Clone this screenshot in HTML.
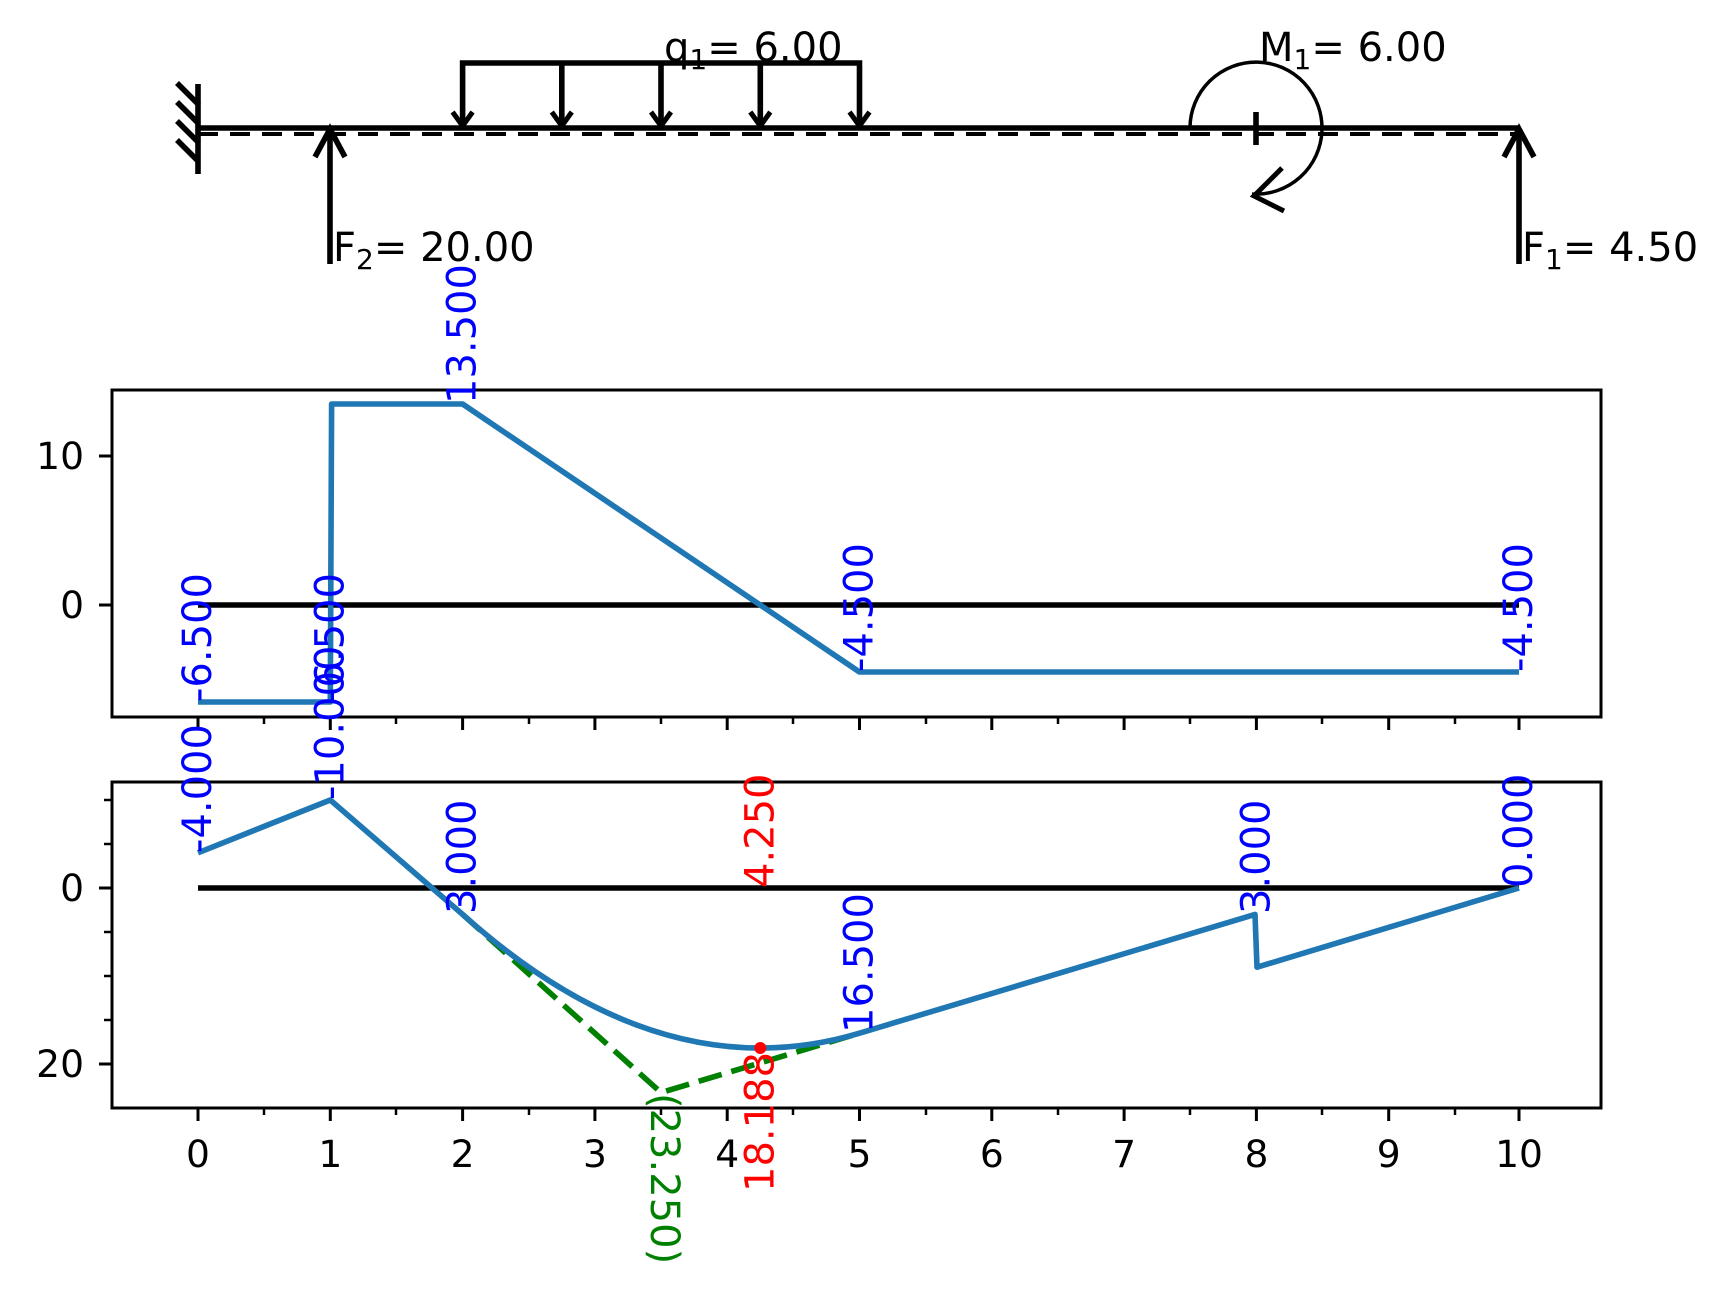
<!DOCTYPE html>
<html><head><meta charset="utf-8"><style>
html,body{margin:0;padding:0;background:#fff;}
svg{display:block;}
text{font-family:"DejaVu Sans","Liberation Sans",sans-serif;font-size:37.6px;}
.a{font-size:40px;}
</style></head><body>
<svg width="1733" height="1301" viewBox="0 0 1733 1301" xmlns="http://www.w3.org/2000/svg">
<rect width="1733" height="1301" fill="#fff"/>
<g stroke="#000" fill="none" stroke-width="5.6">
<line x1="198" y1="84" x2="198" y2="174"/>
<line x1="177" y1="83" x2="199" y2="105"/>
<line x1="177" y1="102" x2="199" y2="124"/>
<line x1="177" y1="121" x2="199" y2="143"/>
<line x1="177" y1="140" x2="199" y2="162"/>
<line x1="198" y1="128" x2="1519" y2="128"/>
<line x1="198" y1="134" x2="1519" y2="134" stroke-width="4" stroke-dasharray="20,12"/>
<polyline points="462.6,128 462.6,63 859.5,63 859.5,128"/>
<line x1="561.8" y1="63" x2="561.8" y2="128"/>
<line x1="661" y1="63" x2="661" y2="128"/>
<line x1="760.3" y1="63" x2="760.3" y2="128"/>
<g stroke-width="5">
<polyline points="452.6,112 462.6,126 472.6,112"/>
<polyline points="551.8,112 561.8,126 571.8,112"/>
<polyline points="651,112 661,126 671,112"/>
<polyline points="750.3,112 760.3,126 770.3,112"/>
<polyline points="849.5,112 859.5,126 869.5,112"/>
</g>
<line x1="330" y1="264" x2="330" y2="130"/>
<polyline points="315,157 330,129 345,157"/>
<line x1="1519" y1="264" x2="1519" y2="130"/>
<polyline points="1504,157 1519,129 1534,157"/>
<path d="M1190,128 A66,66 0 1 1 1252,194" stroke-width="3.5"/>
<polyline points="1282,168 1254,196 1284,211" stroke-width="5"/>
<line x1="1256" y1="112" x2="1256" y2="145"/>
</g>
<text class="a" x="664" y="61">q<tspan font-size="28" dy="8">1</tspan><tspan dy="-8">= 6.00</tspan></text>
<text class="a" x="1259" y="61">M<tspan font-size="28" dy="8">1</tspan><tspan dy="-8">= 6.00</tspan></text>
<text class="a" x="333" y="261">F<tspan font-size="28" dy="8">2</tspan><tspan dy="-8">= 20.00</tspan></text>
<text class="a" x="1522" y="261">F<tspan font-size="28" dy="8">1</tspan><tspan dy="-8">= 4.50</tspan></text>

<g stroke="#000" stroke-width="3" fill="none">
<rect x="112" y="390" width="1489" height="327"/>
<line x1="112" y1="456" x2="99" y2="456"/>
<line x1="112" y1="605" x2="99" y2="605"/>
</g>
<g stroke="#000" stroke-width="3">
<line x1="198" y1="717" x2="198" y2="730"/><line x1="330.3" y1="717" x2="330.3" y2="730"/><line x1="462.6" y1="717" x2="462.6" y2="730"/><line x1="594.9" y1="717" x2="594.9" y2="730"/><line x1="727.2" y1="717" x2="727.2" y2="730"/><line x1="859.5" y1="717" x2="859.5" y2="730"/><line x1="991.8" y1="717" x2="991.8" y2="730"/><line x1="1124.1" y1="717" x2="1124.1" y2="730"/><line x1="1256.4" y1="717" x2="1256.4" y2="730"/><line x1="1388.7" y1="717" x2="1388.7" y2="730"/><line x1="1519" y1="717" x2="1519" y2="730"/>
<g stroke-width="2.5">
<line x1="264" y1="717" x2="264" y2="724"/><line x1="396" y1="717" x2="396" y2="724"/><line x1="529" y1="717" x2="529" y2="724"/><line x1="661" y1="717" x2="661" y2="724"/><line x1="793" y1="717" x2="793" y2="724"/><line x1="926" y1="717" x2="926" y2="724"/><line x1="1058" y1="717" x2="1058" y2="724"/><line x1="1190" y1="717" x2="1190" y2="724"/><line x1="1322" y1="717" x2="1322" y2="724"/><line x1="1455" y1="717" x2="1455" y2="724"/>
</g>
</g>
<text x="84" y="456" text-anchor="end" dominant-baseline="central">10</text>
<text x="84" y="605" text-anchor="end" dominant-baseline="central">0</text>
<line x1="198" y1="605" x2="1519" y2="605" stroke="#000" stroke-width="5.6"/>
<polyline points="198,702 330.3,702 331.6,404 462.6,404 859.5,672 1519,672" fill="none" stroke="#1f77b4" stroke-width="5.6" stroke-linejoin="round"/>
<g fill="#0000ff" class="a">
<text class="a" transform="translate(198,702) rotate(-90)" dominant-baseline="central">-6.500</text>
<text class="a" transform="translate(330.3,702) rotate(-90)" dominant-baseline="central">-6.500</text>
<text class="a" transform="translate(462.6,404) rotate(-90)" dominant-baseline="central">13.500</text>
<text class="a" transform="translate(859.5,672) rotate(-90)" dominant-baseline="central">-4.500</text>
<text class="a" transform="translate(1519,672) rotate(-90)" dominant-baseline="central">-4.500</text>
</g>

<g stroke="#000" stroke-width="3" fill="none">
<rect x="112" y="782" width="1489" height="326"/>
<line x1="112" y1="888" x2="99" y2="888"/>
<line x1="112" y1="1064" x2="99" y2="1064"/>
<g stroke-width="2.5">
<line x1="112" y1="800" x2="104" y2="800"/><line x1="112" y1="844" x2="104" y2="844"/><line x1="112" y1="932" x2="104" y2="932"/><line x1="112" y1="976" x2="104" y2="976"/><line x1="112" y1="1020" x2="104" y2="1020"/>
<line x1="264" y1="1108" x2="264" y2="1115"/><line x1="396" y1="1108" x2="396" y2="1115"/><line x1="529" y1="1108" x2="529" y2="1115"/><line x1="661" y1="1108" x2="661" y2="1115"/><line x1="793" y1="1108" x2="793" y2="1115"/><line x1="926" y1="1108" x2="926" y2="1115"/><line x1="1058" y1="1108" x2="1058" y2="1115"/><line x1="1190" y1="1108" x2="1190" y2="1115"/><line x1="1322" y1="1108" x2="1322" y2="1115"/><line x1="1455" y1="1108" x2="1455" y2="1115"/>
</g>
<line x1="198" y1="1108" x2="198" y2="1121"/><line x1="330.3" y1="1108" x2="330.3" y2="1121"/><line x1="462.6" y1="1108" x2="462.6" y2="1121"/><line x1="594.9" y1="1108" x2="594.9" y2="1121"/><line x1="727.2" y1="1108" x2="727.2" y2="1121"/><line x1="859.5" y1="1108" x2="859.5" y2="1121"/><line x1="991.8" y1="1108" x2="991.8" y2="1121"/><line x1="1124.1" y1="1108" x2="1124.1" y2="1121"/><line x1="1256.4" y1="1108" x2="1256.4" y2="1121"/><line x1="1388.7" y1="1108" x2="1388.7" y2="1121"/><line x1="1519" y1="1108" x2="1519" y2="1121"/>
</g>
<text x="84" y="888" text-anchor="end" dominant-baseline="central">0</text>
<text x="84" y="1064" text-anchor="end" dominant-baseline="central">20</text>
<g text-anchor="middle">
<text x="198" y="1167">0</text><text x="330.3" y="1167">1</text><text x="462.6" y="1167">2</text><text x="594.9" y="1167">3</text><text x="727.2" y="1167">4</text><text x="859.5" y="1167">5</text><text x="991.8" y="1167">6</text><text x="1124.1" y="1167">7</text><text x="1256.4" y="1167">8</text><text x="1388.7" y="1167">9</text><text x="1519" y="1167">10</text>
</g>
<line x1="198" y1="888" x2="1519" y2="888" stroke="#000" stroke-width="5.6"/>
<polyline points="462.6,914.4 661,1092.6 859.5,1033.2" fill="none" stroke="#008000" stroke-width="5.6" stroke-dasharray="24,10"/>
<path d="M198,852.8 L330.3,800 L462.6,914.4 Q661,1092.6 859.5,1033.2 L1255,914.4 L1257,967.2 L1519,888" fill="none" stroke="#1f77b4" stroke-width="5.6" stroke-linejoin="round"/>
<circle cx="760.3" cy="1048" r="6" fill="#ff0000"/>
<g fill="#0000ff">
<text class="a" transform="translate(198,853) rotate(-90)" dominant-baseline="central">-4.000</text>
<text class="a" transform="translate(330.3,800) rotate(-90)" dominant-baseline="central">-10.000</text>
<text class="a" transform="translate(462.6,914) rotate(-90)" dominant-baseline="central">3.000</text>
<text class="a" transform="translate(859.5,1033) rotate(-90)" dominant-baseline="central">16.500</text>
<text class="a" transform="translate(1256.4,914) rotate(-90)" dominant-baseline="central">3.000</text>
<text class="a" transform="translate(1519,888) rotate(-90)" dominant-baseline="central">0.000</text>
</g>
<g fill="#ff0000">
<text class="a" transform="translate(760.3,888) rotate(-90)" dominant-baseline="central">4.250</text>
<text class="a" transform="translate(760.3,1052) rotate(-90)" dominant-baseline="central" text-anchor="end">18.188</text>
</g>
<text class="a" transform="translate(664,1093) rotate(90)" dominant-baseline="central" fill="#008000">(23.250)</text>
</svg>
</body></html>
